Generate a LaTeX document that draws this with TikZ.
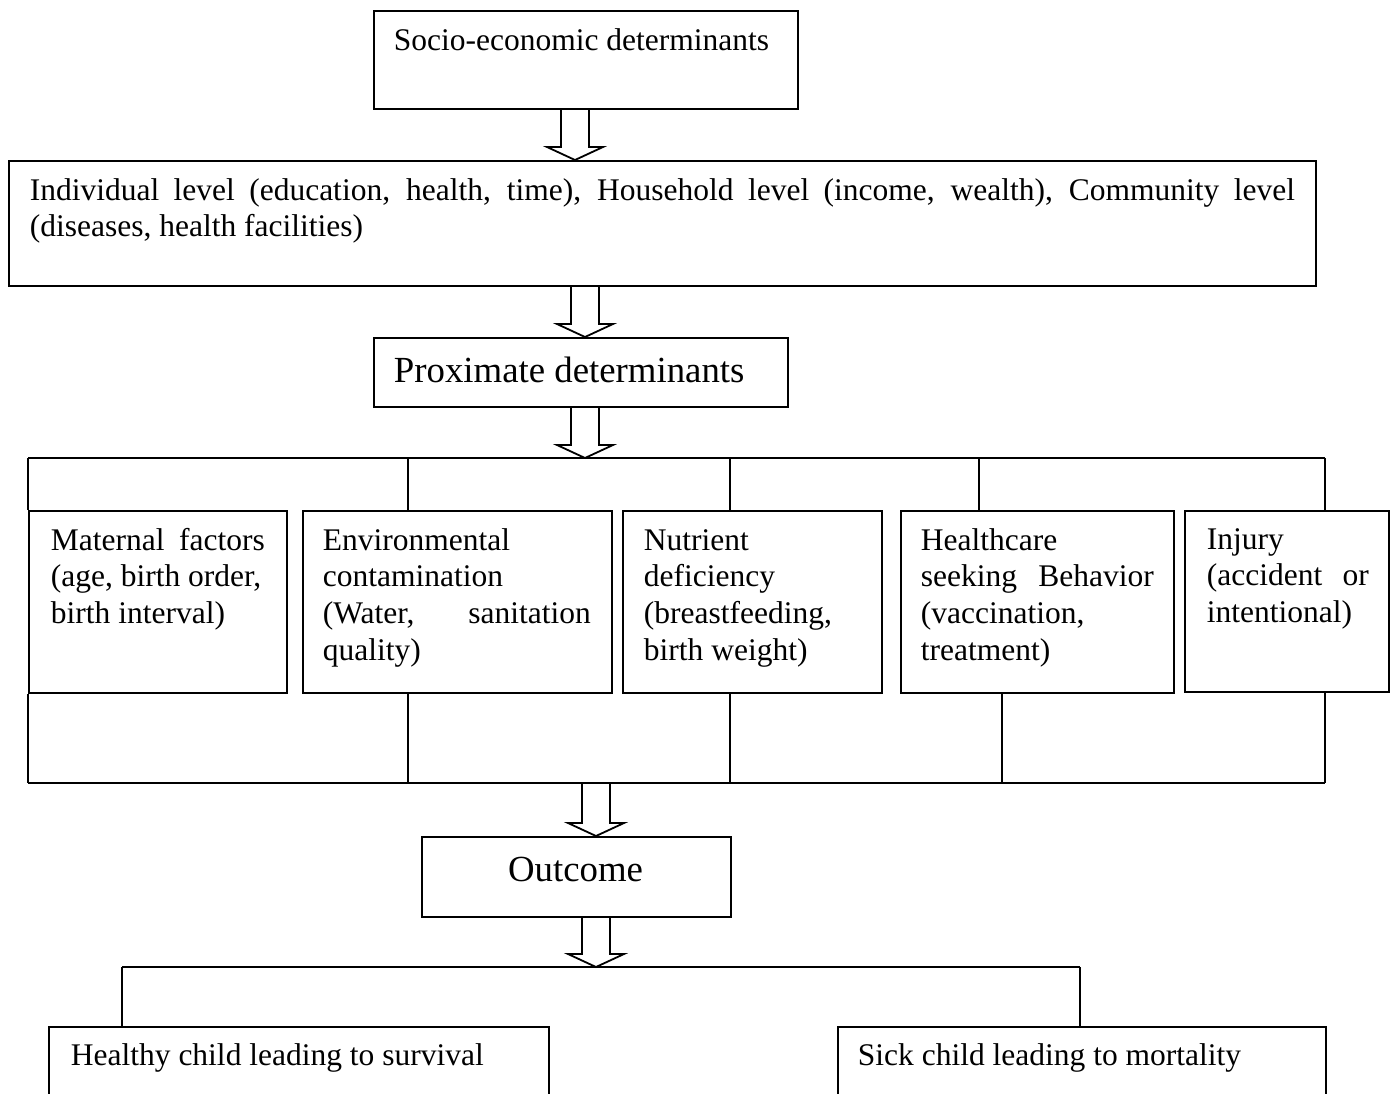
\documentclass[tikz,border=0pt]{standalone}
\usepackage{fontspec}
\setmainfont{Liberation Serif}
\usetikzlibrary{calc}
\newcommand{\jl}[1]{\makebox[\linewidth][s]{#1}}
\begin{document}
\begin{tikzpicture}[x=1pt,y=-1pt,line width=1.8pt,
  box/.style={draw,rectangle,inner sep=0pt,anchor=north west},
  txt/.style={inner sep=0pt,anchor=base west,font=\fontsize{31.5}{36.7}\selectfont},
  bigtxt/.style={inner sep=0pt,anchor=base west,font=\fontsize{36.8}{43}\selectfont},
  blockarrow/.style={to path={let \p1=(\tikztostart), \p2=(\tikztotarget) in
    (\x1-14pt,\y1) -- (\x1-14pt,\y2+13pt) -- (\x1-28pt,\y2+13pt) -- (\x1,\y2)
    -- (\x1+28pt,\y2+13pt) -- (\x1+14pt,\y2+13pt) -- (\x1+14pt,\y1)}}]
\useasboundingbox (0,0) rectangle (1394,1093);
\clip (0,0) rectangle (1394,1093);

% boxes
\node[box,minimum width=424pt,minimum height=98pt] (socio) at (373,10) {};
\node[box,minimum width=1307pt,minimum height=125pt] (indiv) at (8,160) {};
\node[box,minimum width=414pt,minimum height=69pt] (prox) at (373,337) {};
\node[box,minimum width=258pt,minimum height=182pt] (mat) at (28,510) {};
\node[box,minimum width=309pt,minimum height=182pt] (env) at (302,510) {};
\node[box,minimum width=259pt,minimum height=182pt] (nut) at (622,510) {};
\node[box,minimum width=273pt,minimum height=182pt] (hc) at (900,510) {};
\node[box,minimum width=204pt,minimum height=181pt] (inj) at (1184,510) {};
\node[box,minimum width=309pt,minimum height=80pt] (outc) at (421,836) {};
\node[box,minimum width=500pt,minimum height=120pt] (healthy) at (48,1026) {};
\node[box,minimum width=488pt,minimum height=120pt] (sick) at (837,1026) {};

% texts
\node[txt] (socioT) at (393,50) {Socio-economic determinants};
\node[txt] (indivT) at (29,200) {\parbox[t]{1265pt}{\jl{Individual level (education, health, time), Household level (income, wealth), Community level}\\(diseases, health facilities)}};
\node[bigtxt] (proxT) at (393,382) {Proximate determinants};
\node[txt] (matT) at (50,550) {\parbox[t]{214pt}{\jl{Maternal factors}\\(age, birth order,\\birth interval)}};
\node[txt] (envT) at (322,550) {\parbox[t]{268pt}{Environmental\\contamination\\\jl{(Water, sanitation}\\quality)}};
\node[txt] (nutT) at (643,550) {\parbox[t]{216pt}{Nutrient\\deficiency\\(breastfeeding,\\birth weight)}};
\node[txt] (hcT) at (920,550) {\parbox[t]{233pt}{Healthcare\\\jl{seeking Behavior}\\(vaccination,\\treatment)}};
\node[txt] (injT) at (1206,549) {\parbox[t]{162pt}{Injury\\\jl{(accident or}\\intentional)}};
\node[bigtxt,anchor=base] (outcT) at (575.5,881) {Outcome};
\node[txt] (healthyT) at (70,1065) {Healthy child leading to survival};
\node[txt] (sickT) at (857,1065) {Sick child leading to mortality};

% reference coordinates
\coordinate (a1) at (575,0);
\coordinate (a2) at (585,0);
\coordinate (a4) at (596,0);
\coordinate (busL) at (28,458);
\coordinate (busR) at (1325,458);
\coordinate (busBL) at (28,783);
\coordinate (busBR) at (1325,783);
\coordinate (t2) at (408,458);
\coordinate (t3) at (730,458);
\coordinate (t4) at (979,458);
\coordinate (b2) at (408,783);
\coordinate (b3) at (730,783);
\coordinate (b4) at (1002,783);
\coordinate (oL) at (122,967);
\coordinate (oR) at (1080,967);

% block arrows
\draw[blockarrow] (socio.south -| a1) to (indiv.north -| a1);
\draw[blockarrow] (indiv.south -| a2) to (prox.north -| a2);
\draw[blockarrow] (prox.south -| a2) to (busL -| a2);
\draw[blockarrow] (busBL -| a4) to (outc.north -| a4);
\draw[blockarrow] (outc.south -| a4) to (oL -| a4);

% upper tree
\draw (busL) -- (busR);
\draw (busL) -- (mat.north west);
\draw (t2) -- (t2 |- env.north);
\draw (t3) -- (t3 |- nut.north);
\draw (t4) -- (t4 |- hc.north);
\draw (busR) -- (busR |- inj.north);
% lower tree
\draw (busBL) -- (busBR);
\draw (mat.south west) -- (busBL);
\draw (env.south -| b2) -- (b2);
\draw (nut.south -| b3) -- (b3);
\draw (hc.south -| b4) -- (b4);
\draw (inj.south -| busBR) -- (busBR);
% outcome tree
\draw (oL) -- (oR);
\draw (oL) -- (oL |- healthy.north);
\draw (oR) -- (oR |- sick.north);
\end{tikzpicture}
\end{document}
